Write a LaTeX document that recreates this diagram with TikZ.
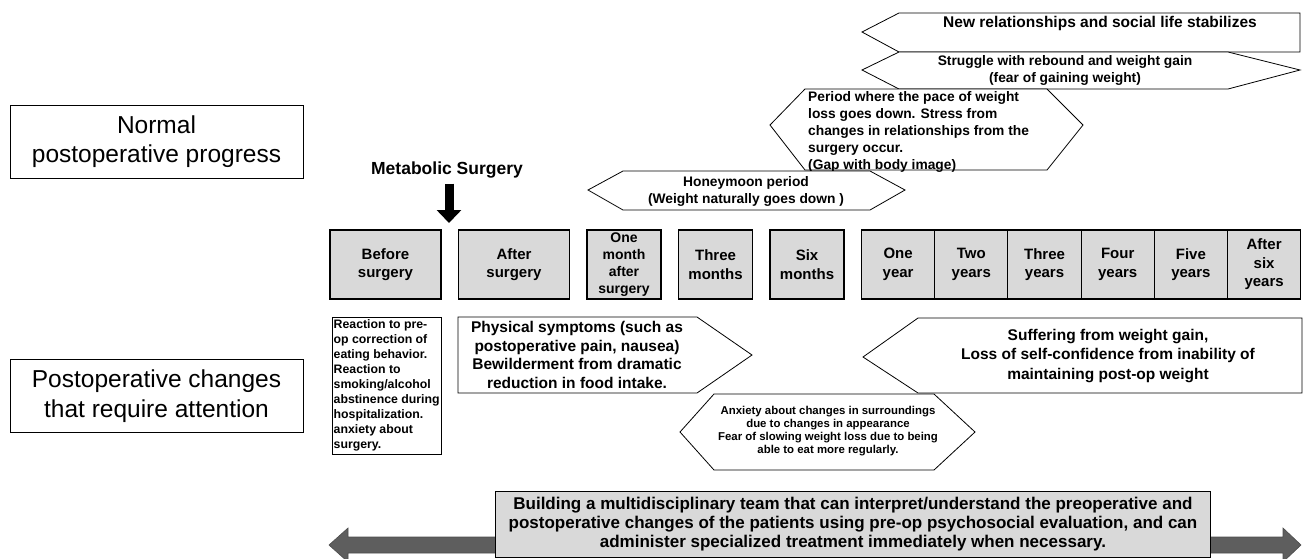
\documentclass[tikz,border=0pt]{standalone}
\usepackage{fontspec}
\setmainfont{Liberation Sans}
\usepackage{xcolor}
\usetikzlibrary{
    positioning,
    arrows.meta,
    calc
}
\definecolor{cellgrey}{HTML}{D9D9D9}
\definecolor{bargrey}{HTML}{5E5E5E}
\tikzset{
  rowlabel/.style = {
      draw,
      line width=0.9pt,
      minimum width=293pt,
      minimum height=73pt,
      align=center,
      font=\fontsize{24.5}{29.5}\selectfont
  },
  stage/.style = {
      draw,
      line width=1.1pt,
      outer sep=0pt,
      fill=cellgrey,
      minimum width=74pt,
      minimum height=69pt,
      inner sep=0pt,
      align=center,
      font=\bfseries\fontsize{15}{18.5}\selectfont
  },
  phase/.style = {
      draw,
      line width=0.8pt,
      fill=white,
      line join=miter
  },
  phasetext/.style = {
      align=center,
      inner sep=0pt,
      font=\bfseries\fontsize{13.8}{17}\selectfont
  },
  bigtext/.style = {
      phasetext,
      font=\bfseries\fontsize{15.5}{18.5}\selectfont
  },
  smalltext/.style = {
      align=center,
      inner sep=0pt,
      font=\bfseries\fontsize{11.4}{12.8}\selectfont
  },
  teambox/.style = {
      draw,
      line width=0.9pt,
      fill=cellgrey,
      minimum width=715pt,
      minimum height=66pt,
      inner sep=0pt,
      align=center,
      font=\bfseries\fontsize{17}{19}\selectfont
  },
  teamarrow/.style = {
      draw=black!70,
      line width=0.6pt,
      fill=bargrey
  },
  surgarrow/.style = {
      line width=9pt,
      -{Triangle[width=24pt,length=13pt]}
  }
}

\begin{document}
\begin{tikzpicture}[x=1pt, y=-1pt, node distance=17.5pt]
    \useasboundingbox (0,0) rectangle (1303,558);
    % Row labels
    \node[rowlabel] (normal) at (156.5,141.5) {Normal\\postoperative progress};
    \node[rowlabel] (attention) at (156.5,396) {Postoperative changes\\that require attention};

    % Timeline
    \node[stage, minimum width=111pt, anchor=north west] (before) at (330,230) {Before\\surgery};
    \node[stage, minimum width=111pt, right=of before] (after) {After\\surgery};
    \node[stage, right=of after, font=\bfseries\fontsize{14}{16.8}\selectfont] (month1) {One\\month\\after\\surgery};
    \node[stage, right=of month1] (month3) {Three\\months};
    \node[stage, right=of month3] (month6) {Six\\months};
    \node[stage, minimum width=73.2pt, right=of month6] (year1) {One\\year};
    \node[stage, minimum width=73.2pt, right=0pt of year1] (year2) {Two\\years};
    \node[stage, minimum width=73.2pt, right=0pt of year2] (year3) {Three\\years};
    \node[stage, minimum width=73.2pt, right=0pt of year3] (year4) {Four\\years};
    \node[stage, minimum width=73.2pt, right=0pt of year4] (year5) {Five\\years};
    \node[stage, minimum width=73.2pt, right=0pt of year5] (year6) {After\\six\\years};

    % Surgery marker
    \node[font=\bfseries\fontsize{17.5}{20}\selectfont] (surgery) at (447,170) {Metabolic Surgery};
    \coordinate (surgtip) at (449,223);
    \draw[surgarrow, shorten <=2pt] (surgery.south -| surgtip) -- (surgtip);

    % Normal progress phases
    \draw[phase] (862,32) -- (899,13) -- (1300,13) -- (1300,52) -- (899,52) -- cycle;
    \node[bigtext] (social) at (1100,23) {New relationships and social life stabilizes};
    \draw[phase] (862,70) -- (899,52) -- (1228,52) -- (1300,70) -- (1228,89) -- (899,89) -- cycle;
    \node[phasetext] (rebound) at (1065,70) {Struggle with rebound and weight gain\\(fear of gaining weight)};
    \draw[phase] (770,125) -- (805,89) -- (1047,89) -- (1083,125) -- (1047,170) -- (805,170) -- cycle;
    \node[phasetext, align=left, anchor=north west] (slowdown) at (808,91) {Period where the pace of weight\\loss goes down. Stress from\\changes in relationships from the\\surgery occur.\\(Gap with body image)};
    \draw[phase] (588,190) -- (623,171) -- (870,171) -- (905,190) -- (870,210) -- (623,210) -- cycle;
    \node[phasetext] (honeymoon) at (746,191) {Honeymoon period\\(Weight naturally goes down )};

    % Changes that require attention
    \node[draw, line width=1pt, minimum width=109pt, minimum height=137pt, anchor=north west] (reaction) at (332,317) {};
    \node[align=left, inner sep=0pt, anchor=north west, font=\bfseries\fontsize{12.3}{15}\selectfont] (reactiontext) at (333.5,319) {Reaction to pre-\\op correction of\\eating behavior.\\Reaction to\\smoking/alcohol\\abstinence during\\hospitalization.\\anxiety about\\surgery.};
    \draw[phase] (458,317) -- (697,317) -- (752,355) -- (697,393) -- (458,393) -- cycle;
    \node[bigtext] (physical) at (577,355) {Physical symptoms (such as\\postoperative pain, nausea)\\Bewilderment from dramatic\\reduction in food intake.};
    \draw[phase] (680,432) -- (714,394) -- (934,394) -- (975,432) -- (934,470) -- (714,470) -- cycle;
    \node[smalltext] (anxiety) at (828,431) {Anxiety about changes in surroundings\\due to changes in appearance\\Fear of slowing weight loss due to being\\able to eat more regularly.};
    \draw[phase] (863,357) -- (918,318) -- (1302,318) -- (1302,393) -- (918,393) -- cycle;
    \node[bigtext, font=\bfseries\fontsize{15.5}{19.5}\selectfont] (regain) at (1108,356) {Suffering from weight gain,\\Loss of self-confidence from inability of\\maintaining post-op weight};

    % Team across the whole course
    \draw[teamarrow] (329,545) -- (348,528) -- (348,537) -- (1283,537) -- (1283,528) -- (1301,545)
        -- (1283,562) -- (1283,553) -- (348,553) -- (348,562) -- cycle;
    \node[teambox, anchor=north west] (team) at (495,491) {Building a multidisciplinary team that can interpret/understand the preoperative and\\postoperative changes of the patients using pre-op psychosocial evaluation, and can\\administer specialized treatment immediately when necessary.};
\end{tikzpicture}
\end{document}
